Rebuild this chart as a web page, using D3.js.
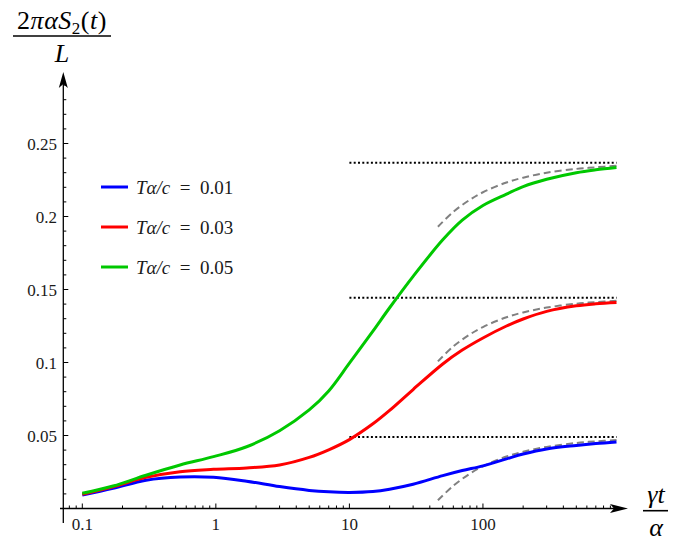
<!DOCTYPE html>
<html>
<head>
<meta charset="utf-8">
<script src="https://cdn.jsdelivr.net/npm/d3@7"></script>
<style>
  body { margin: 0; background: #fff; }
</style>
</head>
<body>
<div id="chart"></div>
<script>
'use strict';

// values
let times = [0.1, 0.17, 0.3, 0.54, 0.96, 1.7, 3, 5, 7, 10, 15, 20, 30, 50, 70, 100, 150, 200, 300, 500, 700, 1000];
let blueVals = [0.0092, 0.0138, 0.0194, 0.0216, 0.0214, 0.0187, 0.0150, 0.0124, 0.0114, 0.0110, 0.0116, 0.0132, 0.0166, 0.0225, 0.0260, 0.0292, 0.0340, 0.0373, 0.0408, 0.0432, 0.0445, 0.0456];
let redVals = [0.0098, 0.0149, 0.0213, 0.0252, 0.0268, 0.0278, 0.0298, 0.0350, 0.0402, 0.0472, 0.0580, 0.0672, 0.0815, 0.0990, 0.1085, 0.1168, 0.1250, 0.1298, 0.1350, 0.1388, 0.1402, 0.1411];
let greenVals = [0.0104, 0.0154, 0.0228, 0.0298, 0.0355, 0.0423, 0.0533, 0.0675, 0.0805, 0.0995, 0.1215, 0.1375, 0.1590, 0.1840, 0.1975, 0.2075, 0.2153, 0.2205, 0.2255, 0.2300, 0.2320, 0.2336];

let dashTimes = [46, 60, 80, 100, 150, 200, 300, 500, 700, 1000];
let blueDash = [0.0056, 0.0156, 0.0239, 0.0289, 0.0356, 0.0389, 0.0422, 0.0449, 0.0460, 0.0469];
let redDash = [0.1008, 0.1110, 0.1193, 0.1243, 0.1310, 0.1343, 0.1376, 0.1403, 0.1414, 0.1423];
let greenDash = [0.1930, 0.2032, 0.2115, 0.2166, 0.2233, 0.2266, 0.2300, 0.2326, 0.2337, 0.2347];

let limits = [0.0489, 0.1443, 0.2368];
let limitFrom = 10, limitTo = 1000;

let legendLabels = ['0.01', '0.03', '0.05'];
let colors = ['#0000ff', '#ff0000', '#00c800'];
let xTickVals = [0.1, 1, 10, 100];
let xTickLabels = ['0.1', '1', '10', '100'];
let yTickVals = [0.05, 0.1, 0.15, 0.2, 0.25];
let yTickLabels = ['0.05', '0.1', '0.15', '0.2', '0.25'];

let W = 695, H = 542;
let font = "'Liberation Serif', 'DejaVu Serif', 'Times New Roman', serif";
let svg = d3.select('#chart').append('svg')
	.attr('width', W)
	.attr('height', H)
	.attr('font-family', font);

let x = d3.scaleLog().domain([0.1, 1000]).range([82.3, 616.5]);
let y = d3.scaleLinear().domain([0, 0.25]).range([508.5, 143.5]);

let axisX0 = 60, axisX1 = 628;
let axisY0 = 523, axisY1 = 72;
let yAxisX = 63.3;

// x axis
svg.append('line')
	.attr('x1', axisX0).attr('x2', axisX1 - 14)
	.attr('y1', y(0)).attr('y2', y(0))
	.attr('stroke', '#000').attr('stroke-width', 1.3);
svg.append('path')
	.attr('d', `M${axisX1},${y(0)} L${axisX1 - 18},${y(0) - 4.5} L${axisX1 - 14},${y(0)} L${axisX1 - 18},${y(0) + 4.5} Z`)
	.attr('fill', '#000');

let minorX = [];
for (let e = -2; e <= 2; e++) {
	for (let k = 1; k <= 9; k++) {
		let v = k * Math.pow(10, e);
		if (x(v) >= axisX0 + 2 && x(v) <= axisX1 - 10) minorX.push(v);
	}
}
svg.selectAll('line.xminor')
	.data(minorX)
	.join('line')
	.classed('xminor', true)
	.attr('x1', d => x(d)).attr('x2', d => x(d))
	.attr('y1', y(0)).attr('y2', d => xTickVals.includes(d) ? y(0) - 5 : y(0) - 3)
	.attr('stroke', '#000').attr('stroke-width', 1);

svg.selectAll('text.xlab')
	.data(xTickVals)
	.join('text')
	.classed('xlab', true)
	.attr('x', d => x(d))
	.attr('y', 530)
	.attr('text-anchor', 'middle')
	.attr('font-size', 17)
	.attr('fill', '#1a1a1a')
	.text((d, i) => xTickLabels[i]);

// y axis
svg.append('line')
	.attr('x1', yAxisX).attr('x2', yAxisX)
	.attr('y1', axisY0).attr('y2', axisY1 + 12)
	.attr('stroke', '#000').attr('stroke-width', 1.3);
svg.append('path')
	.attr('d', `M${yAxisX},${axisY1} L${yAxisX - 4.5},${axisY1 + 16} L${yAxisX},${axisY1 + 12} L${yAxisX + 4.5},${axisY1 + 16} Z`)
	.attr('fill', '#000');

let minorY = d3.range(1, 30).map(i => i / 100);
svg.selectAll('line.yminor')
	.data(minorY)
	.join('line')
	.classed('yminor', true)
	.attr('x1', yAxisX)
	.attr('x2', d => (Math.round(d * 100) % 5 === 0) ? yAxisX + 5 : yAxisX + 3)
	.attr('y1', d => y(d)).attr('y2', d => y(d))
	.attr('stroke', '#000').attr('stroke-width', 1);

svg.selectAll('text.ylab')
	.data(yTickVals)
	.join('text')
	.classed('ylab', true)
	.attr('x', 57)
	.attr('y', d => y(d) + 6)
	.attr('text-anchor', 'end')
	.attr('font-size', 17)
	.attr('fill', '#1a1a1a')
	.text((d, i) => yTickLabels[i]);

// dotted asymptotes
svg.selectAll('line.limit')
	.data(limits)
	.join('line')
	.classed('limit', true)
	.attr('x1', x(limitFrom)).attr('x2', x(limitTo))
	.attr('y1', d => y(d)).attr('y2', d => y(d))
	.attr('stroke', '#000').attr('stroke-width', 2)
	.attr('stroke-dasharray', '2,2.3');

let line = d3.line()
	.x(d => x(d[0]))
	.y(d => y(d[1]))
	.curve(d3.curveCatmullRom.alpha(0.5));

// dashed approximations
let dashSets = [blueDash, redDash, greenDash];
svg.selectAll('path.approx')
	.data(dashSets)
	.join('path')
	.classed('approx', true)
	.attr('d', vals => line(vals.map((v, i) => [dashTimes[i], v])))
	.attr('fill', 'none')
	.attr('stroke', '#808080')
	.attr('stroke-width', 2)
	.attr('stroke-dasharray', '7,4');

// curves
let series = [blueVals, redVals, greenVals];
svg.selectAll('path.curve')
	.data(series)
	.join('path')
	.classed('curve', true)
	.attr('d', vals => line(vals.map((v, i) => [times[i], v])))
	.attr('fill', 'none')
	.attr('stroke', (d, i) => colors[i])
	.attr('stroke-width', 3);

// legend
let legend = svg.selectAll('g.legend')
	.data(legendLabels)
	.join('g')
	.classed('legend', true)
	.attr('transform', (d, i) => `translate(101,${187 + i * 40})`);
legend.append('line')
	.attr('x1', 0).attr('x2', 27)
	.attr('stroke', (d, i) => colors[i])
	.attr('stroke-width', 3);
let lt = legend.append('text')
	.attr('x', 35)
	.attr('y', 6.5)
	.attr('font-size', 19)
	.attr('fill', '#1a1a1a');
lt.append('tspan').attr('font-style', 'italic').text('T');
lt.append('tspan').attr('font-style', 'italic').text('α');
lt.append('tspan').attr('font-style', 'italic').text('/c');
lt.append('tspan').text(d => '\u2002=\u2002' + d);

// y label (fraction)
let yl = svg.append('text')
	.attr('x', 62).attr('y', 29)
	.attr('text-anchor', 'middle')
	.attr('font-size', 26)
	.attr('letter-spacing', 0.5);
yl.append('tspan').text('2');
yl.append('tspan').attr('font-style', 'italic').text('παS');
yl.append('tspan').attr('font-size', 17).attr('dy', 5).text('2');
yl.append('tspan').attr('dy', -5).text('(');
yl.append('tspan').attr('font-style', 'italic').text('t');
yl.append('tspan').text(')');
svg.append('line')
	.attr('x1', 13).attr('x2', 111)
	.attr('y1', 36).attr('y2', 36)
	.attr('stroke', '#000').attr('stroke-width', 1.6);
svg.append('text')
	.attr('x', 62).attr('y', 62)
	.attr('text-anchor', 'middle')
	.attr('font-size', 26)
	.attr('font-style', 'italic')
	.text('L');

// x label (fraction)
svg.append('text')
	.attr('x', 656).attr('y', 503)
	.attr('text-anchor', 'middle')
	.attr('font-size', 26)
	.attr('font-style', 'italic')
	.text('γt');
svg.append('line')
	.attr('x1', 643).attr('x2', 668)
	.attr('y1', 510.7).attr('y2', 510.7)
	.attr('stroke', '#000').attr('stroke-width', 1.6);
svg.append('text')
	.attr('x', 656).attr('y', 536)
	.attr('text-anchor', 'middle')
	.attr('font-size', 26)
	.attr('font-style', 'italic')
	.text('α');
</script>
</body>
</html>
